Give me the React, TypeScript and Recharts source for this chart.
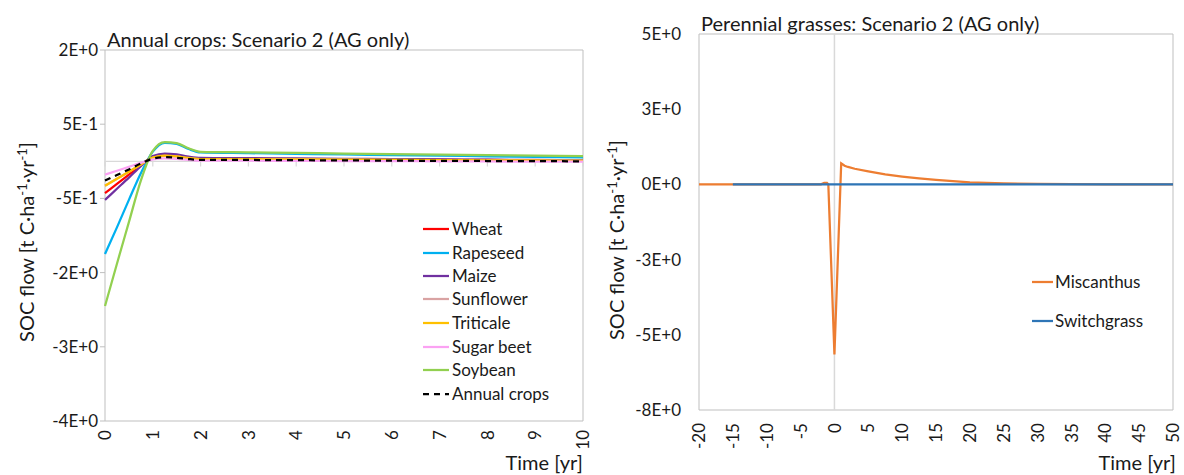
import React from 'react';
import { LineChart, Line, XAxis, YAxis, ReferenceLine, ReferenceArea } from 'recharts';

const FONT = 'Lato, "Open Sans", sans-serif';
const TEXT = '#1a1a1a';
const FRAME = '#bfbfbf';
const ZERO = '#d9d9d9';

// ---------- Annual crops (years 0..10) ----------
const cropYears = [0, 0.25, 0.5, 0.75, 1, 1.25, 1.5, 1.75, 2, 3, 4, 5, 6, 7, 8, 9, 10];
const wheat = [-0.43, -0.305, -0.18, -0.055, 0.06, 0.09, 0.08, 0.052, 0.036, 0.033, 0.03, 0.027, 0.024, 0.021, 0.018, 0.015, 0.012];
const rapeseed = [-1.25, -0.89, -0.52, -0.16, 0.13, 0.25, 0.235, 0.165, 0.12, 0.11, 0.1, 0.092, 0.084, 0.076, 0.068, 0.06, 0.052];
const maize = [-0.52, -0.37, -0.22, -0.065, 0.07, 0.105, 0.092, 0.062, 0.045, 0.042, 0.038, 0.034, 0.03, 0.026, 0.022, 0.018, 0.015];
const sunflower = [-0.33, -0.235, -0.14, -0.042, 0.048, 0.072, 0.063, 0.043, 0.03, 0.028, 0.025, 0.022, 0.019, 0.016, 0.013, 0.01, 0.008];
const triticale = [-0.33, -0.235, -0.14, -0.042, 0.05, 0.075, 0.065, 0.045, 0.031, 0.029, 0.026, 0.023, 0.02, 0.017, 0.014, 0.011, 0.009];
const sugarBeet = [-0.18, -0.128, -0.075, -0.022, 0.025, 0.04, 0.034, 0.02, 0.01, 0.008, 0.006, 0.004, 0.002, 0.0, -0.002, -0.004, -0.006];
const soybean = [-1.95, -1.38, -0.82, -0.26, 0.14, 0.26, 0.245, 0.175, 0.128, 0.12, 0.112, 0.105, 0.098, 0.091, 0.084, 0.077, 0.07];
const annualCrops = [-0.26, -0.185, -0.11, -0.03, 0.035, 0.055, 0.047, 0.03, 0.02, 0.018, 0.015, 0.012, 0.009, 0.006, 0.004, 0.002, 0.0];

const cropXTicks = [0, 1, 2, 3, 4, 5, 6, 7, 8, 9, 10];
const cropYTicks = [1.5, 0.5, -0.5, -1.5, -2.5, -3.5];

const cropSeries = [
  { key: 'wheat', name: 'Wheat', color: '#ff0000', values: wheat, dash: undefined },
  { key: 'rapeseed', name: 'Rapeseed', color: '#00b0f0', values: rapeseed, dash: undefined },
  { key: 'maize', name: 'Maize', color: '#7030a0', values: maize, dash: undefined },
  { key: 'sunflower', name: 'Sunflower', color: '#d9a3a3', values: sunflower, dash: undefined },
  { key: 'triticale', name: 'Triticale', color: '#ffc000', values: triticale, dash: undefined },
  { key: 'sugarBeet', name: 'Sugar beet', color: '#fba2f3', values: sugarBeet, dash: undefined },
  { key: 'soybean', name: 'Soybean', color: '#92d050', values: soybean, dash: undefined },
  { key: 'annualCrops', name: 'Annual crops', color: '#000000', values: annualCrops, dash: '6 5' },
];

const cropData = cropYears.map((t, i) => {
  const row: Record<string, number> = { t };
  cropSeries.forEach((s) => {
    row[s.key] = s.values[i];
  });
  return row;
});

// ---------- Perennial grasses (years -20..50) ----------
const grassYears = [-20, -15, -10, -5, -2, -1.5, -1.1, -0.9, 0, 1, 1.5, 2, 3, 5, 7.5, 10, 12.5, 15, 20, 25, 30, 35, 40, 45, 50];
const miscanthus = [0, 0, 0, 0, 0, 0.05, 0.05, 0, -5.65, 0.7, 0.62, 0.58, 0.52, 0.43, 0.33, 0.26, 0.2, 0.15, 0.07, 0.035, 0.018, 0.008, 0.003, 0.001, 0];
const switchgrass = [null, 0, 0, 0, 0, 0, 0, 0, 0, 0, 0, 0, 0, 0, 0, 0, 0, 0, 0, 0, 0, 0, 0, 0, 0];

const grassXTicks = [-20, -15, -10, -5, 0, 5, 10, 15, 20, 25, 30, 35, 40, 45, 50];
const grassYTicks = [5, 2.5, 0, -2.5, -5, -7.5];

const grassSeries = [
  { key: 'miscanthus', name: 'Miscanthus', color: '#ed7d31', values: miscanthus },
  { key: 'switchgrass', name: 'Switchgrass', color: '#2e75b6', values: switchgrass },
];

const grassData = grassYears.map((t, i) => {
  const row: Record<string, number | null> = { t };
  grassSeries.forEach((s) => {
    row[s.key] = s.values[i];
  });
  return row;
});

// Spreadsheet-style "0E+0" number format
const sci = (v: number) => v.toExponential(0).toUpperCase();

const RotatedTick = (props: any) => {
  const { x, y, payload } = props;
  return (
    <text
      x={x}
      y={y}
      transform={`rotate(-90 ${x} ${y})`}
      textAnchor="end"
      dy="0.36em"
      fontSize={17}
      fontFamily={FONT}
      fill={TEXT}
    >
      {payload.value}
    </text>
  );
};

const SocLabel = ({ cx, cy }: { cx: number; cy: number }) => (
  <text
    x={cx}
    y={cy}
    transform={`rotate(-90 ${cx} ${cy})`}
    textAnchor="middle"
    fontSize={20}
    fontFamily={FONT}
    fill={TEXT}
  >
    SOC flow [t C·ha
    <tspan dy={-7} fontSize={13}>-1</tspan>
    <tspan dy={7}>·yr</tspan>
    <tspan dy={-7} fontSize={13}>-1</tspan>
    <tspan dy={7}>]</tspan>
  </text>
);

function CropChart() {
  return (
    <LineChart
      width={592}
      height={475}
      data={cropData}
      margin={{ top: 50, right: 9, bottom: 24, left: 45 }}
      style={{ position: 'absolute', left: 0, top: 0 }}
    >
      <ReferenceArea x1={0} x2={10} y1={-3.5} y2={1.5} fill="none" stroke={FRAME} strokeWidth={1} ifOverflow="visible" />
      <XAxis
        dataKey="t"
        type="number"
        domain={[0, 10]}
        ticks={cropXTicks}
        interval={0}
        axisLine={false}
        tickLine={false}
        tickSize={6}
        tickMargin={3}
        height={30}
        tick={<RotatedTick />}
      />
      <YAxis
        type="number"
        domain={[-3.5, 1.5]}
        ticks={cropYTicks}
        interval={0}
        width={60}
        axisLine={false}
        tickLine={{ stroke: FRAME }}
        tickSize={5}
        tickMargin={2}
        tickFormatter={sci}
        tick={{ fontSize: 17, fontFamily: FONT, fill: TEXT }}
      />
      <ReferenceLine y={0} stroke={ZERO} strokeWidth={1.2} ifOverflow="visible" />
      {cropXTicks.map((t) => (
        <ReferenceLine
          key={`zt${t}`}
          segment={[{ x: t, y: 0 }, { x: t, y: -0.07 }]}
          stroke={ZERO}
          strokeWidth={1.2}
          ifOverflow="visible"
        />
      ))}
      {cropSeries.map((s) => (
        <Line
          key={s.key}
          dataKey={s.key}
          name={s.name}
          type="monotone"
          stroke={s.color}
          strokeWidth={2.25}
          strokeDasharray={s.dash}
          dot={false}
          activeDot={false}
          isAnimationActive={false}
        />
      ))}
    </LineChart>
  );
}

function GrassChart() {
  return (
    <LineChart
      width={592}
      height={475}
      data={grassData}
      margin={{ top: 34, right: 11, bottom: 35, left: 47 }}
      style={{ position: 'absolute', left: 592, top: 0 }}
    >
      <ReferenceArea x1={-20} x2={50} y1={-7.5} y2={5} fill="none" stroke={FRAME} strokeWidth={1} ifOverflow="visible" />
      <XAxis
        dataKey="t"
        type="number"
        domain={[-20, 50]}
        ticks={grassXTicks}
        interval={0}
        axisLine={false}
        tickLine={false}
        tickSize={6}
        tickMargin={7}
        height={30}
        tick={<RotatedTick />}
      />
      <YAxis
        type="number"
        domain={[-7.5, 5]}
        ticks={grassYTicks}
        interval={0}
        width={60}
        axisLine={false}
        tickLine={false}
        tickSize={0}
        tickMargin={18}
        tickFormatter={sci}
        tick={{ fontSize: 17, fontFamily: FONT, fill: TEXT }}
      />
      <ReferenceLine x={0} stroke={ZERO} strokeWidth={1.5} ifOverflow="visible" />
      <ReferenceLine y={0} stroke={ZERO} strokeWidth={1.2} ifOverflow="visible" />
      {grassSeries.map((s) => (
        <Line
          key={s.key}
          dataKey={s.key}
          name={s.name}
          type="linear"
          stroke={s.color}
          strokeWidth={2.25}
          dot={false}
          activeDot={false}
          connectNulls={false}
          isAnimationActive={false}
        />
      ))}
    </LineChart>
  );
}

// Titles, axis captions and legends drawn over both panels
function Overlay() {
  const cropLegendY = [229, 253, 276, 299, 323, 347, 370, 394];
  const grassLegendY = [282, 321];
  return (
    <svg
      width={1184}
      height={475}
      style={{ position: 'absolute', left: 0, top: 0, pointerEvents: 'none' }}
      fontFamily={FONT}
    >
      <text x={107} y={47} fontSize={20} fill={TEXT}>Annual crops: Scenario 2 (AG only)</text>
      <text x={701} y={31} fontSize={20} fill={TEXT}>Perennial grasses: Scenario 2 (AG only)</text>
      <text x={583} y={470} fontSize={20} fill={TEXT} textAnchor="end">Time [yr]</text>
      <text x={1176} y={470} fontSize={20} fill={TEXT} textAnchor="end">Time [yr]</text>
      <SocLabel cx={34} cy={242} />
      <SocLabel cx={624} cy={240} />
      {cropSeries.map((s, i) => (
        <g key={s.key}>
          <line
            x1={423}
            x2={449}
            y1={cropLegendY[i]}
            y2={cropLegendY[i]}
            stroke={s.color}
            strokeWidth={2.25}
            strokeDasharray={s.dash}
          />
          <text x={452} y={cropLegendY[i] + 6} fontSize={17} fill={TEXT}>{s.name}</text>
        </g>
      ))}
      {grassSeries.map((s, i) => (
        <g key={s.key}>
          <line x1={1032} x2={1053} y1={grassLegendY[i]} y2={grassLegendY[i]} stroke={s.color} strokeWidth={2.25} />
          <text x={1055} y={grassLegendY[i] + 6} fontSize={17} fill={TEXT}>{s.name}</text>
        </g>
      ))}
    </svg>
  );
}

export default function App() {
  return (
    <div style={{ position: 'absolute', left: 0, top: 0, width: 1184, height: 475, background: '#ffffff', overflow: 'hidden' }}>
      <CropChart />
      <GrassChart />
      <Overlay />
    </div>
  );
}
